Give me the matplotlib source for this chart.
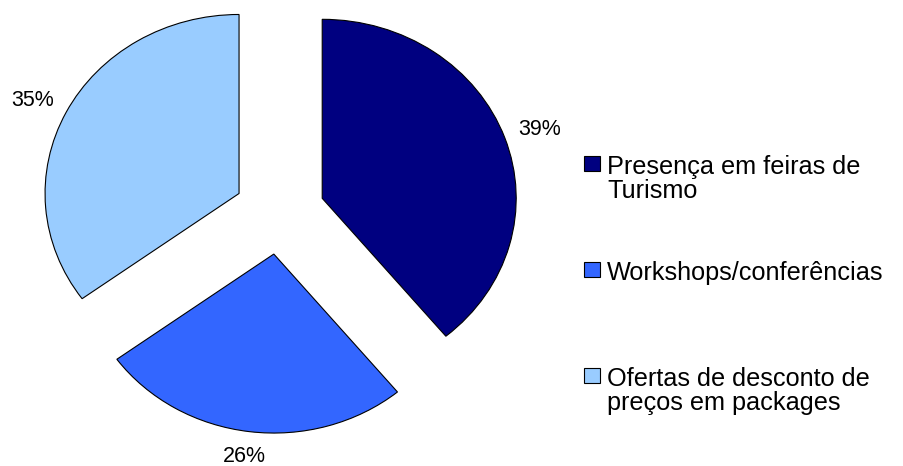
import numpy as np
import matplotlib
matplotlib.use("Agg")
import matplotlib.pyplot as plt
from matplotlib.patches import Rectangle
from matplotlib.transforms import offset_copy

plt.rcParams['font.family'] = ['Liberation Sans', 'DejaVu Sans']

labels = ['Presença em feiras de\nTurismo',
          'Workshops/conferências',
          'Ofertas de desconto de\npreços em packages']
values = [39, 26, 35]
colors = ['#000080', '#3366FF', '#99CCFF']

W, H = 904, 466
# pie centre and radii in pixels (the chart is slightly wider than tall)
cx, cy = 279.5, 212.5
rx, ry = 194.0, 179.0

fig = plt.figure(figsize=(W / 100, H / 100), dpi=100)
ax = fig.add_axes([0, 0, 1, 1])

wedges, texts, autotexts = ax.pie(
    values, colors=colors, startangle=90, counterclock=False,
    explode=[0.234] * len(values), autopct='%1.0f%%', pctdistance=1.08,
    wedgeprops=dict(edgecolor='black', linewidth=0.8),
    textprops=dict(fontsize=15.5, color='black'))

# push each percentage out by half its box so the box edge clears the slice
for w, t in zip(wedges, autotexts):
    ang = np.deg2rad((w.theta1 + w.theta2) / 2)
    t.set_ha('center')
    t.set_va('center')
    t.set_transform(offset_copy(ax.transData, fig=fig,
                                x=22 * np.cos(ang), y=11 * np.sin(ang), units='dots'))

ax.set_aspect('auto')
ax.set_xlim(-cx / rx, (W - cx) / rx)
ax.set_ylim(-(H - cy) / ry, cy / ry)
ax.axis('off')

# legend: square swatch beside the first line of each entry
box_x, box_w, box_h = 584, 16, 15
tops = [156, 262, 368]
for lab, col, top in zip(labels, colors, tops):
    fig.add_artist(Rectangle((box_x / W, 1 - (top + box_h) / H), box_w / W, box_h / H,
                             facecolor=col, edgecolor='black', linewidth=0.8,
                             transform=fig.transFigure))
    fig.text(607 / W, 1 - (top - 1) / H, lab, fontsize=18.2,
             ha='left', va='top', linespacing=1.02)

fig.savefig('out.png', dpi=100)
